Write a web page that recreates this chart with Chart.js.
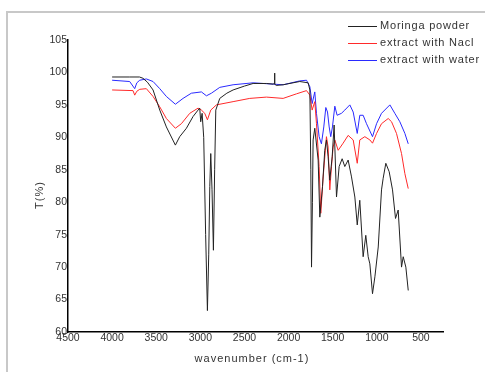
<!DOCTYPE html>
<html>
<head>
<meta charset="utf-8">
<script src="https://cdn.jsdelivr.net/npm/chart.js@4.4.1/dist/chart.umd.min.js"></script>
<style>
  html, body { margin: 0; padding: 0; background: #fff; }
  #wrap { position: relative; width: 485px; height: 372px; overflow: hidden; }
  #frame { position: absolute; left: 6px; top: 11px; width: 600px; height: 500px;
           border-left: 2px solid #c8c8c8; border-top: 2px solid #c8c8c8; pointer-events: none; }
  canvas { position: absolute; left: 0; top: 0; }
</style>
</head>
<body>
<div id="wrap">
  <div id="frame"></div>
  <canvas id="c" width="485" height="372"></canvas>
</div>
<script>
// ---- data ----
const seriesLabels = ['Moringa powder', 'extract with Nacl', 'extract with water'];
const seriesColors = ['#222222', '#ff2a2a', '#2a2aff'];

const xTicks = [4500, 4000, 3500, 3000, 2500, 2000, 1500, 1000, 500];
const yTicks = [60, 65, 70, 75, 80, 85, 90, 95, 100, 105];

const moringaWn = [4000, 3800, 3690, 3650, 3600, 3536, 3460, 3385, 3283, 3234,
                   3158, 3083, 3026, 3007, 2996, 2980, 2962, 2940, 2920, 2905,
                   2893, 2882, 2868, 2852, 2838, 2825, 2780, 2700, 2629, 2500,
                   2402, 2251, 2175, 2165, 2160, 2155, 2140, 2062, 1950, 1873,
                   1778, 1759, 1748, 1740, 1730, 1722, 1703, 1665, 1646, 1616,
                   1590, 1571, 1552, 1533, 1506, 1484, 1457, 1427, 1393, 1363,
                   1325, 1287, 1249, 1222, 1193, 1155, 1125, 1098, 1079, 1049,
                   1022, 984, 947, 928, 898, 860, 822, 788, 758, 720,
                   701, 671, 644];
const moringaT  = [99.3, 99.3, 99.3, 99.1, 98.5, 97.3, 94.2, 91.6, 88.8, 90.1,
                   91.4, 93.2, 94.2, 94.5, 92.4, 93.7, 90.0, 75.0, 63.3, 72.0,
                   82.4, 87.5, 82.0, 72.6, 85.0, 94.2, 96.0, 96.8, 97.3, 97.9,
                   98.3, 98.3, 98.2, 98.3, 99.9, 98.2, 98.0, 98.1, 98.4, 98.6,
                   98.4, 97.3, 85.0, 70.0, 80.0, 89.6, 91.4, 86.5, 77.7, 82.4,
                   88.0, 89.6, 87.0, 83.4, 87.0, 91.9, 80.8, 85.5, 86.7, 85.5,
                   86.5, 83.9, 80.8, 76.5, 80.3, 71.6, 74.9, 71.6, 70.5, 65.9,
                   68.5, 73.1, 81.9, 83.7, 86.0, 84.7, 81.9, 77.5, 78.8, 70.0,
                   71.6, 70.0, 66.4];

const naclWn = [4000, 3763, 3744, 3720, 3687, 3612, 3536, 3460, 3385, 3283,
                3215, 3120, 3026, 2988, 2950, 2920, 2882, 2818, 2629, 2440,
                2251, 2062, 1911, 1797, 1759, 1733, 1703, 1684, 1654, 1635,
                1608, 1571, 1552, 1533, 1514, 1495, 1476, 1438, 1382, 1325,
                1268, 1222, 1193, 1136, 1079, 1049, 1003, 947, 871, 833,
                777, 720, 682, 644];
const naclT  = [97.3, 97.2, 96.5, 97.1, 97.4, 97.5, 96.3, 94.7, 92.9, 91.4,
                92.1, 93.7, 94.5, 94.2, 93.7, 92.7, 94.2, 95.0, 95.5, 96.0,
                96.2, 96.0, 96.7, 97.2, 96.5, 94.2, 95.5, 92.1, 85.5, 78.3,
                83.9, 90.1, 88.5, 81.9, 85.5, 88.5, 89.6, 88.0, 89.1, 90.3,
                89.6, 86.0, 89.6, 90.1, 89.6, 89.1, 90.6, 92.1, 92.9, 92.4,
                90.6, 87.5, 84.4, 82.1];

const waterWn = [4000, 3801, 3744, 3720, 3687, 3612, 3536, 3460, 3385, 3283,
                 3196, 3102, 2988, 2931, 2875, 2780, 2629, 2402, 2175, 2062,
                 1873, 1797, 1759, 1733, 1703, 1684, 1654, 1628, 1601, 1578,
                 1559, 1540, 1522, 1503, 1476, 1450, 1401, 1363, 1306, 1268,
                 1222, 1193, 1155, 1117, 1049, 1003, 947, 852, 796, 739,
                 682, 644];
const waterT  = [98.8, 98.6, 97.5, 98.4, 98.8, 99.0, 98.6, 97.5, 96.3, 95.1,
                 96.0, 96.8, 97.0, 96.4, 96.8, 97.7, 98.1, 98.4, 98.2, 98.1,
                 98.7, 98.8, 97.8, 95.2, 97.0, 93.7, 90.1, 89.0, 91.6, 94.6,
                 93.9, 91.6, 90.1, 91.6, 94.8, 93.4, 93.7, 94.2, 95.0, 93.9,
                 90.6, 93.4, 93.4, 92.1, 90.1, 92.1, 93.7, 95.0, 93.7, 92.4,
                 90.6, 89.0];

const xTitle = 'wavenumber (cm-1)';
const yTitle = 'T(%)';

// ---- build ----
const pairs = (xs, ys) => xs.map((x, i) => ({ x: x, y: ys[i] }));
const seriesData = [pairs(moringaWn, moringaT), pairs(naclWn, naclT), pairs(waterWn, waterT)];

const FONT = '"Liberation Sans", Arial, sans-serif';

const overlay = {
  id: 'overlay',
  afterDraw(chart) {
    const ctx = chart.ctx;
    ctx.save();
    ctx.fillStyle = '#333';
    ctx.font = '11px ' + FONT;
    ctx.letterSpacing = '0.8px';
    ctx.textBaseline = 'middle';
    ctx.textAlign = 'left';
    chart.data.datasets.forEach((ds, i) => {
      const y = 26 + 17 * i;
      ctx.strokeStyle = ds.borderColor;
      ctx.lineWidth = 1;
      ctx.beginPath();
      ctx.moveTo(348, y + 0.5);
      ctx.lineTo(377, y + 0.5);
      ctx.stroke();
      ctx.fillText(ds.label, 380, y);
    });
    // axis titles
    ctx.letterSpacing = '1px';
    ctx.textAlign = 'center';
    ctx.fillText(xTitle, 252, 359);
    ctx.translate(40, 195);
    ctx.rotate(-Math.PI / 2);
    ctx.fillText(yTitle, 0, 0);
    ctx.restore();
  }
};

new Chart(document.getElementById('c'), {
  type: 'line',
  data: {
    datasets: seriesData.map((d, i) => ({
      label: seriesLabels[i],
      data: d,
      borderColor: seriesColors[i],
      borderWidth: 1,
      pointRadius: 0,
      tension: 0,
      fill: false
    }))
  },
  options: {
    responsive: false,
    animation: false,
    layout: { padding: { left: 0, top: 40, right: 42, bottom: 0 } },
    plugins: { legend: { display: false }, tooltip: { enabled: false } },
    scales: {
      x: {
        type: 'linear',
        reverse: true,
        min: 250,
        max: 4500,
        afterBuildTicks: s => { s.ticks = xTicks.map(v => ({ value: v })); },
        afterFit: s => { s.height = 40; },
        grid: { display: false, drawTicks: false },
        border: { display: true, color: '#000', width: 1.5 },
        ticks: { padding: 0, color: '#333', font: { family: FONT, size: 10.5 }, maxRotation: 0, autoSkip: false,
                 callback: v => String(v) }
      },
      y: {
        type: 'linear',
        min: 60,
        max: 105,
        afterBuildTicks: s => { s.ticks = yTicks.map(v => ({ value: v })); },
        afterFit: s => { s.width = 68; },
        grid: { display: false, drawTicks: false },
        border: { display: true, color: '#000', width: 1.5 },
        ticks: { padding: 1, color: '#333', font: { family: FONT, size: 10.5 }, callback: v => String(v) }
      }
    }
  },
  plugins: [overlay]
});
</script>
</body>
</html>
